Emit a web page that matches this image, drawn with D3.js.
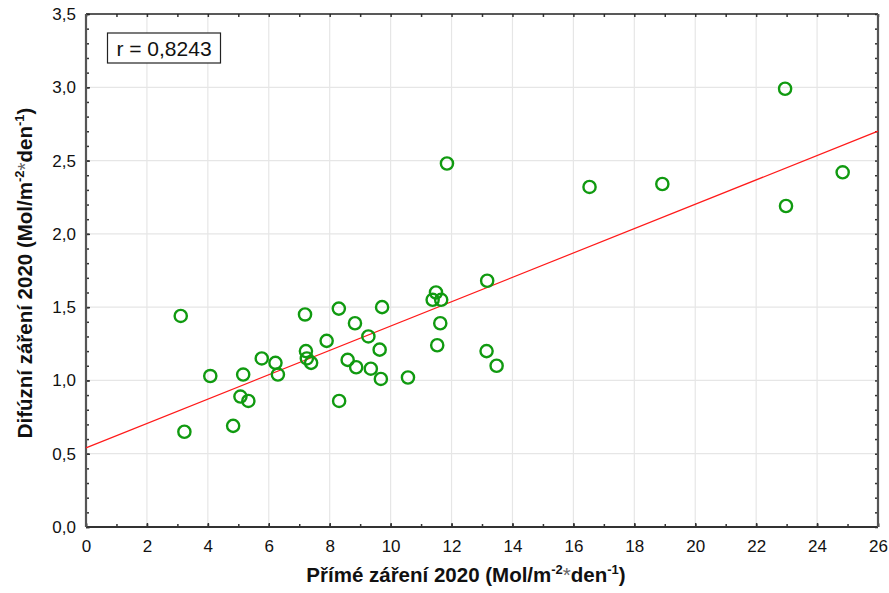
<!DOCTYPE html>
<html>
<head>
<meta charset="utf-8">
<script src="https://cdn.jsdelivr.net/npm/d3@7"></script>
<style>
  html, body { margin: 0; padding: 0; background: #fff; }
  svg { display: block; font-family: "Liberation Sans", Arial, sans-serif; }
</style>
</head>
<body>
<svg id="chart" width="889" height="593"></svg>
<script>
// Direct vs diffuse radiation, 2020 (daily values)
const directX = [3.11, 3.23, 4.08, 4.83, 5.07, 5.16, 5.33, 5.77, 6.22, 6.30,
                 7.19, 7.22, 7.25, 7.39, 7.90, 8.30, 8.31, 8.59, 8.83, 8.87,
                 9.27, 9.35, 9.64, 9.68, 9.72, 10.57, 11.38, 11.49, 11.53, 11.63,
                 11.66, 11.85, 13.15, 13.17, 13.48, 16.53, 18.92, 22.95, 22.98, 24.84];
const diffuseY = [1.44, 0.65, 1.03, 0.69, 0.89, 1.04, 0.86, 1.15, 1.12, 1.04,
                  1.45, 1.20, 1.15, 1.12, 1.27, 1.49, 0.86, 1.14, 1.39, 1.09,
                  1.30, 1.08, 1.21, 1.01, 1.50, 1.02, 1.55, 1.60, 1.24, 1.39,
                  1.55, 2.48, 1.20, 1.68, 1.10, 2.32, 2.34, 2.99, 2.19, 2.42];
// Fitted line: intercept and slope
const fitIntercept = 0.54;
const fitSlope = 0.0831;
const rLabel = "r = 0,8243";
const xTicks = [0, 2, 4, 6, 8, 10, 12, 14, 16, 18, 20, 22, 24, 26];
const yTicks = [0, 0.5, 1.0, 1.5, 2.0, 2.5, 3.0, 3.5];
const xDomain = [0, 26];
const yDomain = [0, 3.5];

const svg = d3.select("#chart");
const L = 86, R = 878, T = 14, B = 527;

const x = d3.scaleLinear().domain(xDomain).range([L, R]);
const y = d3.scaleLinear().domain(yDomain).range([B, T]);
const fmt = v => d3.format(".1f")(v).replace(".", ",");

// grid
const grid = svg.append("g");
grid.selectAll(".gx").data(xTicks.slice(1, -1)).join("line")
  .attr("x1", d => x(d)).attr("x2", d => x(d)).attr("y1", T).attr("y2", B)
  .attr("stroke", "#e6e6e6").attr("stroke-width", 1.2);
grid.selectAll(".gy").data(yTicks.slice(1, -1)).join("line")
  .attr("y1", d => y(d)).attr("y2", d => y(d)).attr("x1", L).attr("x2", R)
  .attr("stroke", "#e6e6e6").attr("stroke-width", 1.2);

// axes with inward ticks
const xMinor = d3.range(0, 27, 1);
const yMinor = d3.range(0, 3.501, 0.1);

function styleAxis(g) {
  g.select(".domain").remove();
  g.selectAll(".tick line").attr("stroke", "#333").attr("stroke-width", 1.5);
  g.selectAll(".tick text").attr("fill", "#111").attr("font-size", 17);
}

svg.append("g").attr("transform", `translate(0,${B})`)
  .call(d3.axisBottom(x).tickValues(xMinor).tickSize(-3).tickFormat(""))
  .call(styleAxis);
svg.append("g").attr("transform", `translate(0,${B})`)
  .call(d3.axisBottom(x).tickValues(xTicks).tickSize(-4).tickPadding(13).tickFormat(d3.format("d")))
  .call(styleAxis);
svg.append("g").attr("transform", `translate(0,${T})`)
  .call(d3.axisTop(x).tickValues(xMinor).tickSize(-3).tickFormat(""))
  .call(styleAxis);

svg.append("g").attr("transform", `translate(${L},0)`)
  .call(d3.axisLeft(y).tickValues(yMinor).tickSize(-3).tickFormat(""))
  .call(styleAxis);
svg.append("g").attr("transform", `translate(${L},0)`)
  .call(d3.axisLeft(y).tickValues(yTicks).tickSize(-4).tickPadding(10).tickFormat(fmt))
  .call(styleAxis);
svg.append("g").attr("transform", `translate(${R},0)`)
  .call(d3.axisRight(y).tickValues(yMinor).tickSize(-3).tickFormat(""))
  .call(styleAxis);

// frame
svg.append("line").attr("x1", L).attr("x2", R).attr("y1", T).attr("y2", T)
  .attr("stroke", "#222").attr("stroke-width", 1.5);
svg.append("line").attr("x1", L).attr("x2", R).attr("y1", B).attr("y2", B)
  .attr("stroke", "#333").attr("stroke-width", 2);
svg.append("line").attr("x1", L).attr("x2", L).attr("y1", T).attr("y2", B)
  .attr("stroke", "#555").attr("stroke-width", 2.2);
svg.append("line").attr("x1", R).attr("x2", R).attr("y1", T).attr("y2", B)
  .attr("stroke", "#555").attr("stroke-width", 2.2);

// regression line
svg.append("line")
  .attr("x1", x(xDomain[0])).attr("y1", y(fitIntercept + fitSlope * xDomain[0]))
  .attr("x2", x(xDomain[1])).attr("y2", y(fitIntercept + fitSlope * xDomain[1]))
  .attr("stroke", "#ff1a1a").attr("stroke-width", 1.2);

// points
svg.append("g").selectAll("circle").data(directX.map((d, i) => [d, diffuseY[i]])).join("circle")
  .attr("cx", d => x(d[0])).attr("cy", d => y(d[1])).attr("r", 6.1)
  .attr("fill", "none").attr("stroke", "#109a10").attr("stroke-width", 2.4);

// r box
const box = svg.append("g");
box.append("rect").attr("x", 107.5).attr("y", 33).attr("width", 113).attr("height", 30)
  .attr("fill", "#fff").attr("stroke", "#222").attr("stroke-width", 1.2);
box.append("text").attr("x", 164).attr("y", 55.5).attr("text-anchor", "middle")
  .attr("font-size", 21).attr("fill", "#111").text(rLabel);

// axis titles
function unitTitle(sel, main) {
  sel.append("tspan").text(main + " (Mol/m");
  sel.append("tspan").attr("dy", -8).attr("font-size", 13).text("-2");
  sel.append("tspan").attr("dy", 8).attr("font-weight", "normal").attr("fill", "#666").text("*");
  sel.append("tspan").text("den");
  sel.append("tspan").attr("dy", -8).attr("font-size", 13).text("-1");
  sel.append("tspan").attr("dy", 8).text(")");
}
svg.append("text").attr("x", 466).attr("y", 582).attr("text-anchor", "middle")
  .attr("font-size", 20.5).attr("font-weight", "bold").attr("fill", "#111")
  .call(unitTitle, "Přímé záření 2020");
svg.append("text").attr("transform", "translate(32,273) rotate(-90)").attr("text-anchor", "middle")
  .attr("font-size", 20.5).attr("font-weight", "bold").attr("fill", "#111")
  .call(unitTitle, "Difúzní záření 2020");
</script>
</body>
</html>
